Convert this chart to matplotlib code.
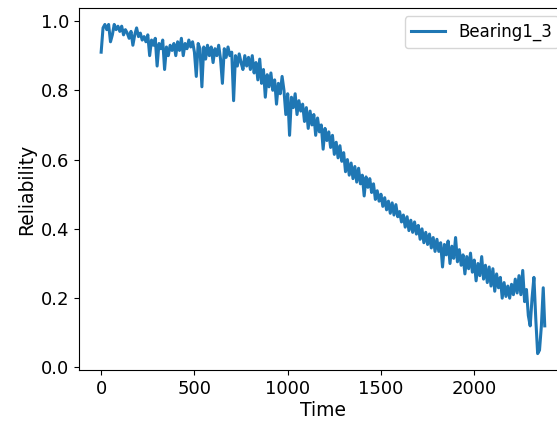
import numpy as np
import matplotlib
matplotlib.use('Agg')
import matplotlib.pyplot as plt

# Reliability curve of Bearing1_3 (one value every 10 time units)
time = list(range(0, 2380, 10)) + [2378]
reliability = [
    0.91, 0.98, 0.99, 0.975, 0.99, 0.94, 0.96, 0.99, 0.975, 0.985,
    0.97, 0.985, 0.96, 0.975, 0.965, 0.95, 0.97, 0.93, 0.96, 0.98,
    0.955, 0.965, 0.945, 0.955, 0.94, 0.96, 0.90, 0.945, 0.93, 0.95,
    0.87, 0.935, 0.92, 0.945, 0.86, 0.925, 0.90, 0.93, 0.915, 0.935,
    0.90, 0.94, 0.915, 0.95, 0.90, 0.935, 0.92, 0.945, 0.925, 0.94,
    0.91, 0.84, 0.935, 0.92, 0.81, 0.925, 0.89, 0.93, 0.90, 0.925,
    0.88, 0.92, 0.90, 0.93, 0.89, 0.82, 0.92, 0.895, 0.925, 0.90,
    0.91, 0.77, 0.90, 0.87, 0.905, 0.88, 0.86, 0.90, 0.87, 0.895,
    0.86, 0.90, 0.85, 0.88, 0.83, 0.89, 0.82, 0.86, 0.78, 0.845,
    0.81, 0.85, 0.80, 0.83, 0.76, 0.82, 0.79, 0.84, 0.80, 0.73,
    0.79, 0.67, 0.78, 0.75, 0.79, 0.73, 0.77, 0.74, 0.76, 0.71,
    0.75, 0.69, 0.74, 0.70, 0.73, 0.67, 0.72, 0.68, 0.70, 0.63,
    0.69, 0.655, 0.68, 0.635, 0.67, 0.615, 0.65, 0.605, 0.64, 0.595,
    0.62, 0.565, 0.60, 0.555, 0.59, 0.545, 0.58, 0.535, 0.575, 0.53,
    0.555, 0.495, 0.55, 0.52, 0.545, 0.505, 0.53, 0.485, 0.51, 0.48,
    0.50, 0.465, 0.49, 0.455, 0.48, 0.445, 0.475, 0.44, 0.47, 0.435,
    0.45, 0.42, 0.44, 0.405, 0.435, 0.395, 0.425, 0.39, 0.42, 0.385,
    0.41, 0.37, 0.40, 0.36, 0.39, 0.355, 0.385, 0.345, 0.375, 0.335,
    0.37, 0.335, 0.36, 0.29, 0.355, 0.325, 0.365, 0.30, 0.35, 0.315,
    0.375, 0.305, 0.34, 0.295, 0.325, 0.27, 0.32, 0.285, 0.33, 0.275,
    0.31, 0.25, 0.30, 0.265, 0.32, 0.255, 0.295, 0.245, 0.29, 0.235,
    0.285, 0.22, 0.27, 0.23, 0.26, 0.20, 0.245, 0.205, 0.235, 0.20,
    0.24, 0.21, 0.255, 0.215, 0.265, 0.21, 0.28, 0.19, 0.225, 0.15,
    0.12, 0.20, 0.26, 0.14, 0.04, 0.05, 0.12, 0.23, 0.12,
]
label = 'Bearing1_3'

plt.rcParams['font.size'] = 13

fig = plt.figure(figsize=(5.57, 4.21), dpi=100)
# the original picture is cut on the right, so the axes run past the figure edge
ax = fig.add_axes([0.1418, 0.121, 0.876, 0.86])

ax.plot(time, reliability, color='#1f77b4', linewidth=2.2, label=label)

ax.set_xlabel('Time', fontsize=13.5, labelpad=2)
ax.set_ylabel('Reliability', fontsize=13.5, labelpad=3)
ax.set_xticks([0, 500, 1000, 1500, 2000])
ax.set_yticks([0.0, 0.2, 0.4, 0.6, 0.8, 1.0])
ax.legend(loc='upper right', fontsize=12)

fig.savefig('out.png', dpi=100)
